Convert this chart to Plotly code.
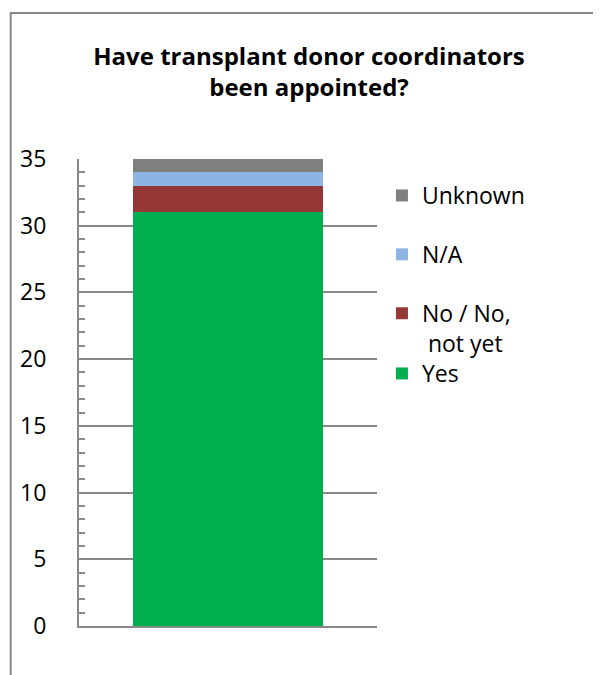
import plotly.graph_objects as go

# data (stack order bottom -> top)
CATEGORY = [""]
SERIES = ["Yes", "No / No,<br> not yet", "N/A", "Unknown"]
VALUES = [[31], [2], [1], [1]]
COLORS = ["#00B050", "#953735", "#8EB4E3", "#7F7F7F"]
LEGEND_RANK = [4, 3, 2, 1]

TITLE = "<b>Have transplant donor coordinators<br>been appointed?</b>"
FONT = "Open Sans, sans-serif"
AXIS_GRAY = "#898989"

W, H = 601, 675
L, R, T, B = 68, 232, 151, 57
plot_w = W - L - R
plot_h = H - T - B

fig = go.Figure()
for name, vals, color, rank in zip(SERIES, VALUES, COLORS, LEGEND_RANK):
    fig.add_bar(x=CATEGORY, y=vals, name=name, marker_color=color,
                marker_line_width=0, legendrank=rank, legendgroup=name,
                legend="legend2" if name == "Yes" else "legend")

# chart frame (left and top edges visible)
fig.add_shape(type="rect", xref="paper", yref="paper",
              x0=(-1 - L) / plot_w, x1=(W + 30 - L) / plot_w,
              y0=-0.4, y1=(H - B - 5) / plot_h,
              line=dict(color="#888888", width=2), layer="below")

legend_style = dict(xanchor="left", yanchor="top", valign="top", itemwidth=30,
                    font=dict(family=FONT, size=23, color="black"),
                    bgcolor="rgba(0,0,0,0)")

fig.update_layout(
    width=W, height=H,
    margin=dict(l=L, r=R, t=T, b=B),
    paper_bgcolor="white", plot_bgcolor="white",
    font=dict(family=FONT, size=23, color="black"),
    barmode="stack", bargap=0.36,
    showlegend=True,
    title=dict(text=TITLE, x=301 / W, xanchor="center",
               y=1 - 57 / H, yanchor="top", yref="container",
               font=dict(family=FONT, size=24, color="black")),
    legend=dict(x=(374 - L) / plot_w, y=(H - B - 166) / plot_h,
                traceorder="grouped", tracegroupgap=26, **legend_style),
    legend2=dict(x=(374 - L) / plot_w, y=(H - B - 344) / plot_h, **legend_style),
    xaxis=dict(showticklabels=False, showline=True, linecolor=AXIS_GRAY, linewidth=2,
               ticks="", showgrid=False, zeroline=False),
    yaxis=dict(range=[0, 35], dtick=5, showline=True, linecolor=AXIS_GRAY, linewidth=2,
               showgrid=True, gridcolor=AXIS_GRAY, gridwidth=1.5, zeroline=False,
               ticks="inside", ticklen=6, tickcolor=AXIS_GRAY, tickwidth=1.5,
               ticklabelstandoff=26,
               minor=dict(dtick=1, ticks="inside", ticklen=6, tickcolor=AXIS_GRAY,
                          tickwidth=1.5, showgrid=False)),
)

fig.write_html("out.html")
